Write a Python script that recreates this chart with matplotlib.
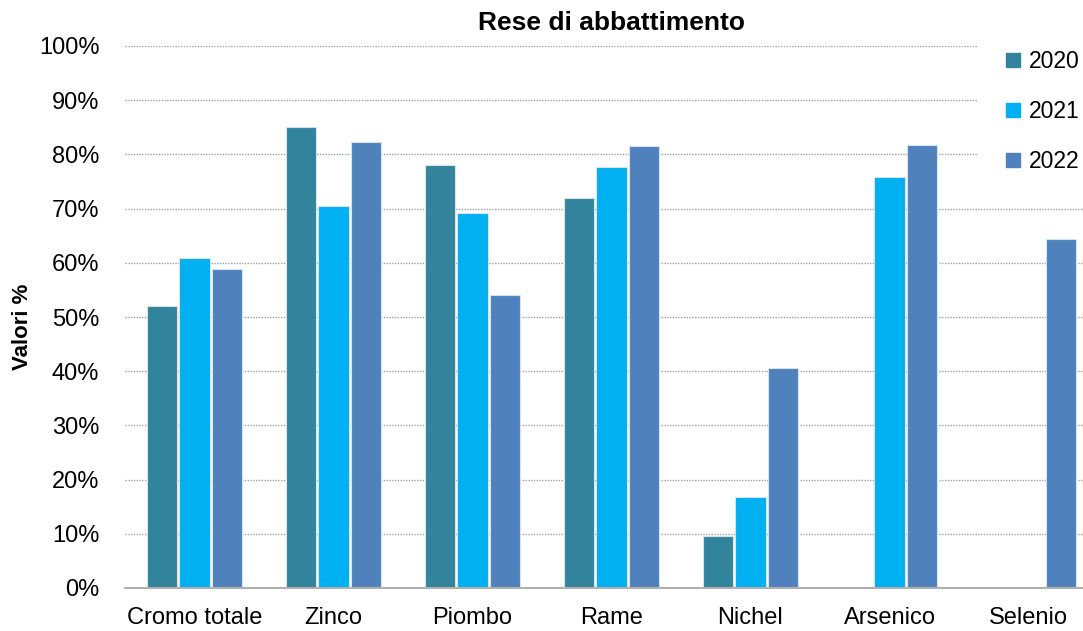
import numpy as np
import matplotlib
matplotlib.use('Agg')
import matplotlib.pyplot as plt
from matplotlib.lines import Line2D
from matplotlib.patches import Rectangle

plt.rcParams['font.family'] = ['Liberation Sans', 'DejaVu Sans']

metalli = ['Cromo totale', 'Zinco', 'Piombo', 'Rame', 'Nichel', 'Arsenico', 'Selenio']
anni = ['2020', '2021', '2022']
# nan = nessun dato per quell'anno
rese_2020 = [52.0, 85.0, 78.0, 72.0, 9.6, np.nan, np.nan]
rese_2021 = [60.8, 70.5, 69.2, 77.7, 16.8, 75.8, np.nan]
rese_2022 = [58.8, 82.3, 54.1, 81.5, 40.6, 81.7, 64.4]
colori = ['#31849B', '#00B0F0', '#4F81BD']

fig = plt.figure(figsize=(10.83, 6.31), dpi=100)
ax = fig.add_axes([125/1083, 43/631, 973/1083, 542/631])

x = np.arange(len(metalli))
step = 0.232
w = 0.218
for i, (serie, col) in enumerate(zip([rese_2020, rese_2021, rese_2022], colori)):
    ax.bar(x + (i - 1)*step, serie, width=w, color=col, edgecolor='#d9e3ef',
           linewidth=0.8, zorder=3)

ax.set_xlim(-0.5, len(metalli) - 0.5)
ax.set_ylim(0, 100)
ax.set_yticks(np.arange(0, 101, 10))
ax.set_yticklabels([f'{v}%' for v in range(0, 101, 10)])
ax.set_xticks(x)
ax.set_xticklabels(metalli)
ax.tick_params(axis='y', length=0, pad=18.5, labelsize=17)
ax.tick_params(axis='x', length=0, pad=14, labelsize=17)
ax.grid(axis='y', color='#a0a0a0', linestyle=(0, (1, 1)), linewidth=1, zorder=0)
for s in ['left', 'right', 'top']:
    ax.spines[s].set_visible(False)
ax.spines['bottom'].set_color('#b0b0b0')
ax.spines['bottom'].set_linewidth(1.5)
ax.spines['bottom'].set_zorder(4)

fig.text(23/1083, 1 - 327/631, 'Valori %', rotation=90, fontsize=16,
         fontweight='bold', ha='center', va='center')
fig.text(612/1083, 1 - 23/631, 'Rese di abbattimento', fontsize=19,
         fontweight='bold', ha='center', va='center')

# area bianca della legenda sopra la griglia
fig.patches.append(Rectangle((977/1083, 1 - 190/631), 106/1083, 152/631,
                             transform=fig.transFigure, facecolor='white',
                             edgecolor='none', zorder=5))

handles = [Line2D([], [], marker='s', linestyle='none', markersize=10.5,
                  markerfacecolor=c, markeredgecolor=c) for c in colori]
leg = fig.legend(handles, anni, loc='upper left', bbox_to_anchor=(1004/1083, 1 - 50/631),
                 fontsize=16.5, frameon=False, handlelength=0.8,
                 handletextpad=0.3, labelspacing=1.17, borderpad=0,
                 borderaxespad=0)
leg.set_zorder(10)

fig.savefig('out.png', dpi=100)
